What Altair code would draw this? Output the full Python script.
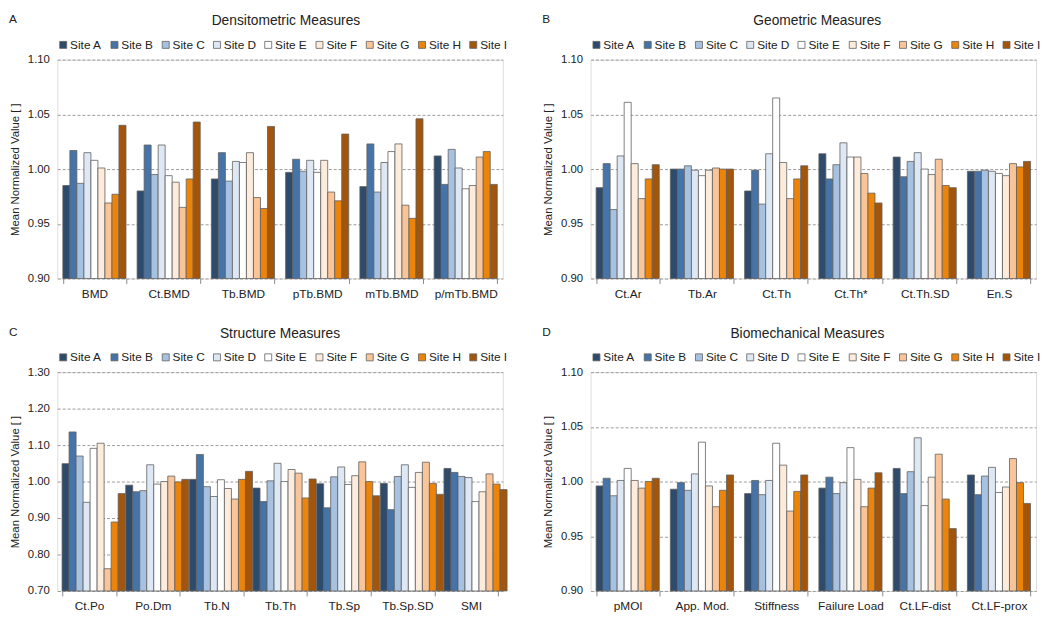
import altair as alt
import pandas as pd

SITES = ["Site A", "Site B", "Site C", "Site D", "Site E", "Site F", "Site G", "Site H", "Site I"]
COLORS = ["#2e4b6c", "#4674a8", "#a7c2e1", "#dde8f4", "#ffffff", "#fdebdb", "#f9c497", "#ec840a", "#a3560b"]

DENS_MEASURES = ["BMD", "Ct.BMD", "Tb.BMD", "pTb.BMD", "mTb.BMD", "p/mTb.BMD"]
DENS_VALUES = [
    [0.985, 0.980, 0.991, 0.997, 0.984, 1.012],
    [1.017, 1.022, 1.015, 1.009, 1.023, 0.986],
    [0.987, 0.995, 0.989, 0.998, 0.979, 1.018],
    [1.015, 1.022, 1.007, 1.008, 1.006, 1.001],
    [1.008, 0.994, 1.006, 0.997, 1.016, 0.982],
    [1.001, 0.988, 1.015, 1.008, 1.023, 0.985],
    [0.969, 0.965, 0.974, 0.979, 0.967, 1.011],
    [0.977, 0.991, 0.964, 0.971, 0.955, 1.016],
    [1.040, 1.043, 1.039, 1.032, 1.046, 0.986],
]

GEOM_MEASURES = ["Ct.Ar", "Tb.Ar", "Ct.Th", "Ct.Th*", "Ct.Th.SD", "En.S"]
GEOM_VALUES = [
    [0.983, 1.000, 0.980, 1.014, 1.011, 0.998],
    [1.005, 1.000, 0.999, 0.991, 0.993, 0.998],
    [0.963, 1.003, 0.968, 1.004, 1.007, 0.999],
    [1.012, 0.999, 1.014, 1.024, 1.015, 0.998],
    [1.061, 0.994, 1.065, 1.011, 1.000, 0.996],
    [1.005, 0.999, 1.006, 1.011, 0.995, 0.994],
    [0.973, 1.001, 0.973, 0.996, 1.009, 1.005],
    [0.991, 1.000, 0.991, 0.978, 0.985, 1.002],
    [1.004, 1.000, 1.003, 0.969, 0.983, 1.007],
]

STRUCT_MEASURES = ["Ct.Po", "Po.Dm", "Tb.N", "Tb.Th", "Tb.Sp", "Tb.Sp.SD", "SMI"]
STRUCT_VALUES = [
    [1.049, 0.990, 1.006, 0.982, 0.994, 0.995, 1.036],
    [1.136, 0.972, 1.074, 0.945, 0.928, 0.923, 1.025],
    [1.070, 0.975, 0.986, 1.002, 1.013, 1.014, 1.014],
    [0.943, 1.046, 0.959, 1.050, 1.040, 1.046, 1.011],
    [1.091, 0.993, 1.005, 1.000, 0.992, 0.984, 0.945],
    [1.105, 1.000, 0.981, 1.033, 1.016, 1.025, 0.972],
    [0.761, 1.015, 0.952, 1.023, 1.054, 1.053, 1.021],
    [0.889, 0.999, 1.006, 0.955, 1.000, 0.995, 0.993],
    [0.967, 1.006, 1.028, 1.007, 0.961, 0.965, 0.978],
]

BIO_MEASURES = ["pMOI", "App. Mod.", "Stiffness", "Failure Load", "Ct.LF-dist", "Ct.LF-prox"]
BIO_VALUES = [
    [0.996, 0.993, 0.989, 0.994, 1.012, 1.006],
    [1.003, 0.999, 1.001, 1.004, 0.989, 0.988],
    [0.987, 0.992, 0.988, 0.989, 1.009, 1.005],
    [1.001, 1.007, 1.001, 0.999, 1.040, 1.013],
    [1.012, 1.036, 1.035, 1.031, 0.978, 0.990],
    [1.001, 0.996, 1.015, 1.002, 1.004, 0.995],
    [0.994, 0.977, 0.973, 0.977, 1.025, 1.021],
    [1.000, 0.992, 0.991, 0.994, 0.984, 0.999],
    [1.003, 1.006, 1.006, 1.008, 0.957, 0.980],
]

TICKS_NARROW = [0.90, 0.95, 1.00, 1.05, 1.10]
TICKS_WIDE = [0.70, 0.80, 0.90, 1.00, 1.10, 1.20, 1.30]

FONT = "Liberation Sans"
W, H = 452, 222


def panel(letter, title, measures, values, ticks, title_dx):
    rows = []
    for i, s in enumerate(SITES):
        for j, m in enumerate(measures):
            rows.append({"measure": m, "site": s, "value": values[i][j], "base": ticks[0]})
    df = pd.DataFrame(rows)
    bars = alt.Chart(df).mark_bar(stroke="#5f5f5f", strokeWidth=0.8).encode(
        x=alt.X("measure:N", sort=measures,
                scale=alt.Scale(paddingInner=0.15, paddingOuter=0.075),
                axis=alt.Axis(title=None, labelAngle=0, tickBand="extent", domain=False,
                              tickColor="#888", tickSize=5, labelPadding=5,
                              labelFontSize=12, labelColor="#222", labelFont=FONT)),
        xOffset=alt.XOffset("site:N", sort=SITES,
                            scale=alt.Scale(paddingInner=0, paddingOuter=0)),
        y=alt.Y("value:Q",
                scale=alt.Scale(domain=[ticks[0], ticks[-1]], zero=False, nice=False),
                axis=alt.Axis(values=ticks, format=".2f", title="Mean Normalized Value [ ]",
                              ticks=False, domain=False, labelPadding=8,
                              labelFontSize=11.5, labelColor="#222", labelFont=FONT,
                              titleFontSize=11.5, titleFontWeight="normal", titleColor="#222",
                              titleFont=FONT, titlePadding=7,
                              grid=True, gridDash=[3, 2], gridColor="#9a9a9a", gridWidth=1)),
        y2="base:Q",
        color=alt.Color("site:N", sort=SITES,
                        scale=alt.Scale(domain=SITES, range=COLORS),
                        legend=alt.Legend(title=None, orient="top", direction="horizontal",
                                          symbolType="square", symbolSize=50,
                                          symbolStrokeWidth=0.8,
                                          labelFontSize=12, labelFont=FONT, labelColor="#222",
                                          labelOffset=1, columnPadding=6, offset=9, padding=0)),
    )
    lab = alt.Chart(pd.DataFrame({"t": [letter]})).mark_text(
        align="left", baseline="middle", fontSize=12, font=FONT, color="#222"
    ).encode(text="t:N", x=alt.value(-49), y=alt.value(-41))
    ttl = alt.Chart(pd.DataFrame({"t": [title]})).mark_text(
        align="center", baseline="middle", fontSize=14, font=FONT, color="#222"
    ).encode(text="t:N", x=alt.value(W / 2 + title_dx), y=alt.value(-39))
    return alt.layer(bars, lab, ttl).properties(width=W, height=H)


a = panel("A", "Densitometric Measures", DENS_MEASURES, DENS_VALUES, TICKS_NARROW, 6)
b = panel("B", "Geometric Measures", GEOM_MEASURES, GEOM_VALUES, TICKS_NARROW, 4)
c = panel("C", "Structure Measures", STRUCT_MEASURES, STRUCT_VALUES, TICKS_WIDE, 0)
d = panel("D", "Biomechanical Measures", BIO_MEASURES, BIO_VALUES, TICKS_NARROW, -6)

row1 = alt.hconcat(a, b, spacing=33).resolve_scale(color="independent")
row2 = alt.hconcat(c, d, spacing=33).resolve_scale(color="independent")
chart = alt.vconcat(row1, row2, spacing=25).resolve_scale(color="independent").properties(
    padding=0
).configure_view(stroke="#8a8a8a", strokeWidth=1).configure(background="white")

chart.save("out.html", embed_options={"renderer": "svg", "actions": False})
